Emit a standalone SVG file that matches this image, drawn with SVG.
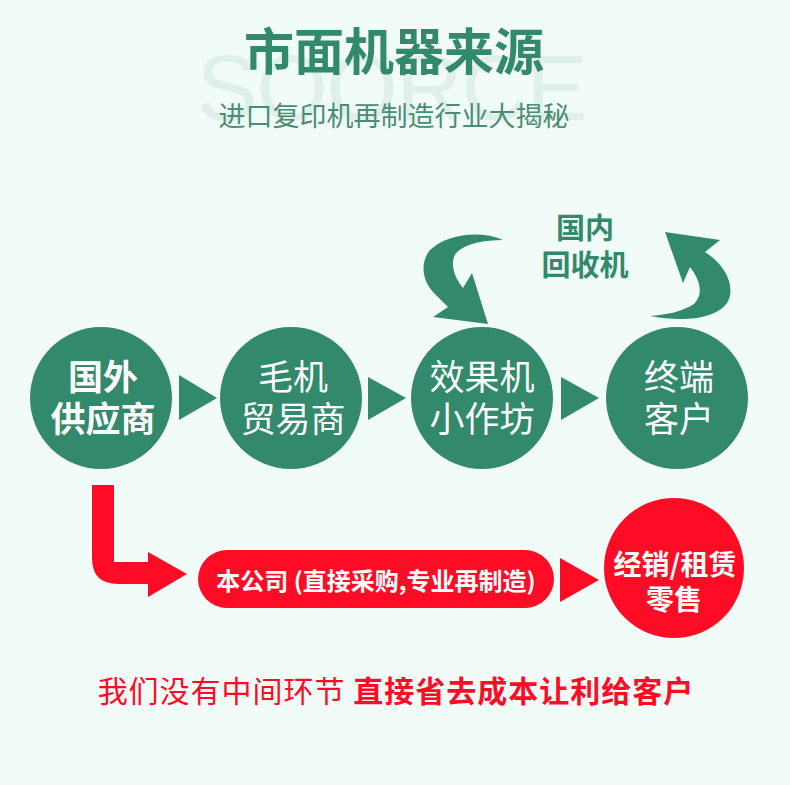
<svg xmlns="http://www.w3.org/2000/svg" width="790" height="785" viewBox="0 0 790 785">
<style>
.t{font-family:"Noto Sans CJK SC","Liberation Sans",sans-serif;text-anchor:middle}
.g{fill:#33896b}
.r{fill:#fe0c26}
.w{fill:#ffffff}
.ct{font-size:35px}
</style>
<rect width="790" height="785" fill="#f1fcf8"/>
<g id="header">
<text x="392" y="120" font-family="Liberation Sans, sans-serif" font-size="92" fill="#dfefe9" text-anchor="middle" textLength="391" lengthAdjust="spacing">SOORCE</text>
<text class="t g" x="394" y="70" font-size="50" font-weight="bold">市面机器来源</text>
<text class="t" x="394" y="126" font-size="27" fill="#4b8d72">进口复印机再制造行业大揭秘</text>
</g>
<g id="connectors">
<polygon class="g" points="179,375 217,398 179,420"/>
<polygon class="g" points="368,377 406,398 368,420"/>
<polygon class="g" points="561,377 599,398 561,420"/>
<path class="g" d="M503,240 C480,230 447,234 430,250 C420,262 422,280 433,292 L448,307 L433,317 L488,324 L472,273 L463,288 C453,276 450,262 456,253 C466,243 485,240 503,240 Z"/>
<path class="g" d="M650,316 C680,322 715,320 727,303 C736,288 727,266 705,252 L720,240 L665,232 L683,283 L690,267 C700,280 704,294 694,304 C682,312 665,315 650,316 Z"/>
<path class="r" d="M92,485 L114,485 L114,562 L148,562 L148,552 L187,574 L148,597 L148,584 L118,584 Q92,584 92,558 Z"/>
<polygon class="r" points="560,558 599,580 560,602"/>
</g>
<g id="recycle-label">
<text class="t g" x="585" y="239" font-size="29" font-weight="bold">国内</text>
<text class="t g" x="585" y="276" font-size="29" font-weight="bold">回收机</text>
</g>
<g id="node-foreign">
<circle class="g" cx="101" cy="398" r="71"/>
<text class="t w ct" x="103" y="390" font-weight="bold">国外</text>
<text class="t w ct" x="103" y="432" font-weight="bold">供应商</text>
</g>
<g id="node-trader">
<circle class="g" cx="291" cy="398" r="71"/>
<text class="t w ct" x="293" y="390">毛机</text>
<text class="t w ct" x="293" y="432">贸易商</text>
</g>
<g id="node-workshop">
<circle class="g" cx="482" cy="398" r="71"/>
<text class="t w ct" x="482" y="390">效果机</text>
<text class="t w ct" x="482" y="432">小作坊</text>
</g>
<g id="node-customer">
<circle class="g" cx="677" cy="398" r="71"/>
<text class="t w ct" x="679" y="390">终端</text>
<text class="t w ct" x="679" y="432">客户</text>
</g>
<g id="node-company">
<rect class="r" x="198" y="550" width="356" height="58" rx="29"/>
<text class="t w" x="376" y="590" font-size="24" font-weight="bold">本公司 (直接采购,专业再制造)</text>
</g>
<g id="node-retail">
<circle class="r" cx="674" cy="568" r="70"/>
<text class="t w" x="675" y="575" font-size="28" font-weight="bold">经销/租赁</text>
<text class="t w" x="674" y="610" font-size="28" font-weight="bold">零售</text>
</g>
<g id="footer">
<text class="t" x="396" y="702" font-size="30" letter-spacing="1" fill="#fe0c26"><tspan>我们没有中间环节 </tspan><tspan font-weight="bold">直接省去成本让利给客户</tspan></text>
</g>
</svg>
